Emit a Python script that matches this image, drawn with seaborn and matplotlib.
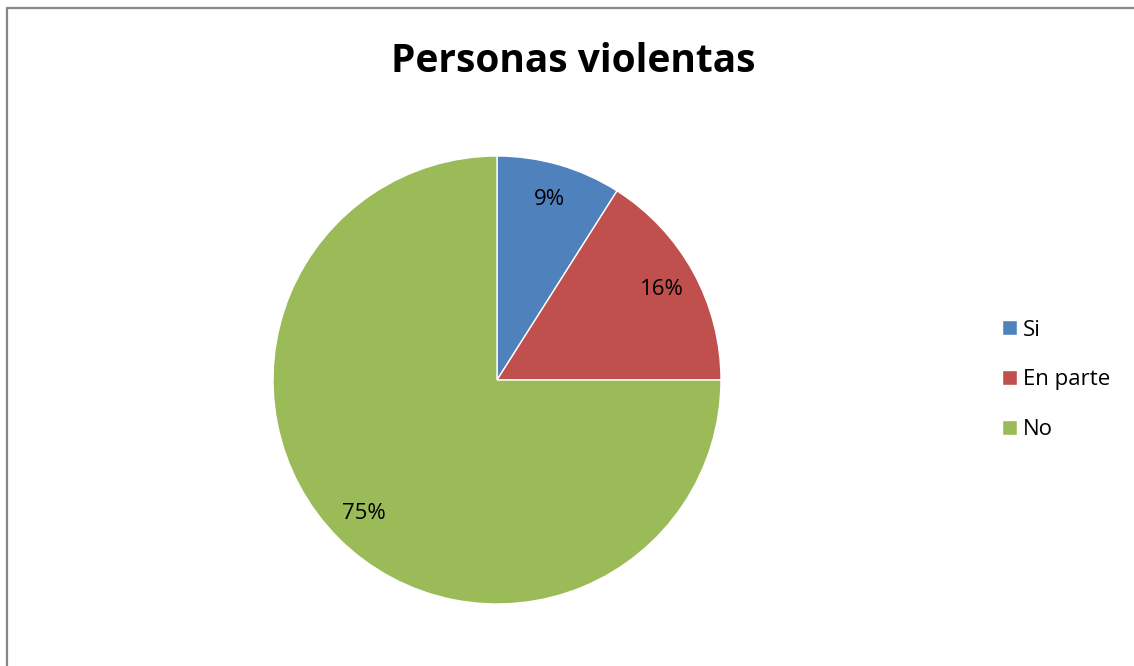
import matplotlib
matplotlib.use("Agg")
import matplotlib.pyplot as plt
import seaborn as sns
from matplotlib.lines import Line2D

categories = ["Si", "En parte", "No"]
values = [9, 16, 75]
colors = ["#4F81BD", "#C0504D", "#9BBB59"]
title = "Personas violentas"

sns.set_theme(style="white")
plt.rcParams['font.family'] = ['Open Sans', 'DejaVu Sans']

W, H = 1134, 666
fig = plt.figure(figsize=(W / 100, H / 100), dpi=100)
fig.patch.set_facecolor("white")

cx, cy, r = 497, 380, 224
ax = fig.add_axes([(cx - r) / W, (H - cy - r) / H, 2 * r / W, 2 * r / H])
wedges, texts, autotexts = ax.pie(
    values, colors=colors, startangle=90, counterclock=False,
    autopct=lambda p: f"{p:.0f}%", pctdistance=0.84, radius=1,
    textprops=dict(fontsize=16, color="black"))
ax.set_xlim(-1, 1)
ax.set_ylim(-1, 1)
ax.set_aspect("equal")
ax.axis("off")

fig.text(573 / W, 1 - 61 / H, title, ha="center", va="center",
         fontsize=28, fontweight="bold", color="black")

leg = fig.legend(wedges, categories, loc="center left",
                 bbox_to_anchor=(991 / W, 1 - 380 / H),
                 frameon=False, fontsize=16, handlelength=0.65, handleheight=0.65,
                 handletextpad=0.3, labelspacing=1.3, borderpad=0)
for t in leg.get_texts():
    t.set_color("black")

# border lines (left and top)
fig.add_artist(Line2D([7 / W, 7 / W], [0, 1 - 8 / H], transform=fig.transFigure,
                      color="#878787", lw=1.6))
fig.add_artist(Line2D([7 / W, 1], [1 - 8 / H, 1 - 8 / H], transform=fig.transFigure,
                      color="#878787", lw=1.6))

fig.savefig("out.png", dpi=100)
